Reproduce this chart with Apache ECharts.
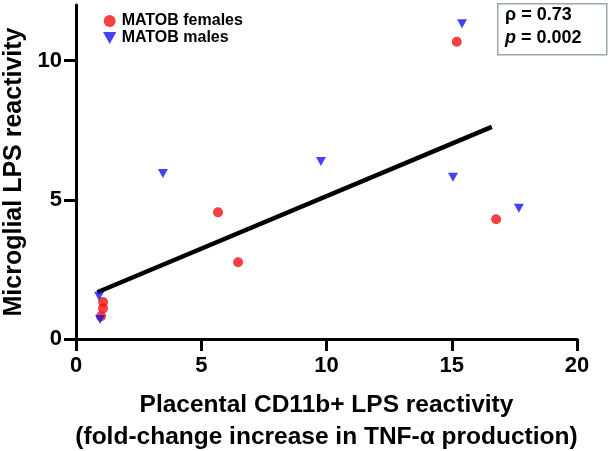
<!DOCTYPE html>
<html>
<head>
<meta charset="utf-8">
<script src="https://cdn.jsdelivr.net/npm/echarts@6/dist/echarts.min.js"></script>
<style>html,body{margin:0;padding:0;background:#fff;}#c{width:610px;height:451px;}</style>
</head>
<body>
<div id="c"></div>
<script>
// Data
var femalesX = [1.08, 1.08, 1.0, 5.67, 6.47, 15.2, 16.77];
var femalesY = [1.33, 1.10, 0.82, 4.55, 2.76, 10.68, 4.30];
var malesX = [0.92, 0.96, 3.47, 9.78, 15.05, 15.41, 17.68];
var malesY = [1.54, 0.70, 5.95, 6.38, 5.81, 11.33, 4.70];
var fitX = [0.85, 16.6];
var fitY = [1.68, 7.62];
var xTicks = [0, 5, 10, 15, 20];
var yTicks = [0, 5, 10];
var seriesNames = ['MATOB females', 'MATOB males'];
var statsRho = '0.73';
var statsP = '0.002';

function pairs(xs, ys) { return xs.map(function (x, i) { return [x, ys[i]]; }); }

var FONT = '"Liberation Sans", Arial, sans-serif';
var triPath = 'path://M0,0 L10,0 L5,9 Z';
var RED = '#f21212';
var BLUE = '#1414ee';

var chart = echarts.init(document.getElementById('c'));
chart.setOption({
  animation: false,
  backgroundColor: '#fff',
  textStyle: { fontFamily: FONT },
  grid: { left: 76, right: 33, top: 5, bottom: 112, containLabel: false, outerBoundsMode: 'none' },
  legend: {
    orient: 'vertical',
    left: 98,
    top: 8,
    itemGap: 1,
    itemWidth: 14,
    itemHeight: 12,
    data: [
      { name: seriesNames[0], icon: 'circle' },
      { name: seriesNames[1], icon: triPath }
    ],
    textStyle: { fontFamily: FONT, fontWeight: 'bold', fontSize: 16, lineHeight: 14, color: '#000' }
  },
  xAxis: {
    type: 'value',
    min: 0, max: 20, interval: 5,
    axisLine: { show: true, onZero: false, lineStyle: { color: '#000', width: 3 } },
    axisTick: { show: true, inside: false, length: 12, lineStyle: { color: '#000', width: 3 }, customValues: xTicks },
    axisLabel: { color: '#000', fontSize: 22, fontWeight: 'bold', fontFamily: FONT, margin: 16, customValues: xTicks },
    splitLine: { show: false },
    name: 'Placental CD11b+ LPS reactivity\n(fold-change increase in TNF-\u03b1 production)',
    nameLocation: 'middle',
    nameGap: 50,
    nameTextStyle: { color: '#000', fontSize: 24.5, fontWeight: 'bold', fontFamily: FONT, lineHeight: 32 }
  },
  yAxis: {
    type: 'value',
    min: 0, max: 12, interval: 5,
    axisLine: { show: true, onZero: false, lineStyle: { color: '#000', width: 3 } },
    axisTick: { show: true, inside: false, length: 12, lineStyle: { color: '#000', width: 3 }, customValues: yTicks },
    axisLabel: { color: '#000', fontSize: 22, fontWeight: 'bold', fontFamily: FONT, margin: 14, customValues: yTicks },
    splitLine: { show: false },
    name: 'Microglial LPS reactivity',
    nameLocation: 'middle',
    nameGap: 40,
    nameTextStyle: { color: '#000', fontSize: 25, fontWeight: 'bold', fontFamily: FONT }
  },
  series: [
    {
      name: 'fit',
      type: 'line',
      data: pairs(fitX, fitY),
      symbol: 'none',
      lineStyle: { color: '#000', width: 4.5 },
      z: 1
    },
    {
      name: seriesNames[0],
      type: 'scatter',
      data: pairs(femalesX, femalesY),
      symbol: 'circle',
      symbolSize: 10,
      itemStyle: { color: RED },
      z: 2
    },
    {
      name: seriesNames[1],
      type: 'scatter',
      data: pairs(malesX, malesY),
      symbol: triPath,
      symbolSize: [10, 9],
      itemStyle: { color: BLUE },
      z: 3
    }
  ],
  graphic: [
    {
      type: 'rect',
      left: 497, top: 3,
      shape: { width: 109, height: 51 },
      style: { fill: '#fff', stroke: '#9aa6b4', lineWidth: 1.5 },
      z: 10
    },
    {
      type: 'text',
      left: 505, top: 6,
      z: 11,
      style: {
        text: '{a|\u03c1 = ' + statsRho + '}\n{b|p}{a| = ' + statsP + '}',
        rich: {
          a: { fontSize: 18, fontWeight: 'bold', fontFamily: FONT, fill: '#000', lineHeight: 23 },
          b: { fontSize: 18, fontWeight: 'bold', fontStyle: 'italic', fontFamily: FONT, fill: '#000', lineHeight: 23 }
        }
      }
    }
  ]
});
</script>
</body>
</html>
